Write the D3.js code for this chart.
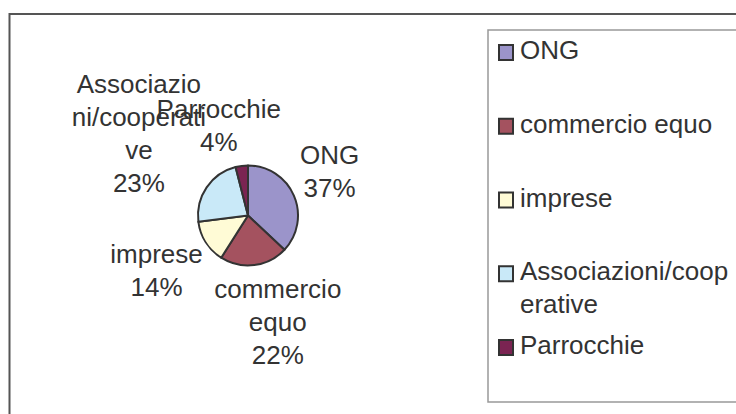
<!DOCTYPE html>
<html>
<head>
<meta charset="utf-8">
<script src="https://cdn.jsdelivr.net/npm/d3@7"></script>
<style>
  body { margin: 0; background: #fff; }
  text { font-family: "Liberation Sans", Arial, sans-serif; fill: #333; }
</style>
</head>
<body>
<div id="chart"></div>
<script>
// data
const categories = ["ONG", "commercio equo", "imprese", "Associazioni/cooperative", "Parrocchie"];
const values = [37, 22, 14, 23, 4];
const colors = ["#9b94ca", "#a4525f", "#fffbd6", "#c9e9f8", "#7b2452"];
// wrapped text as it appears next to the slices and in the legend
const sliceLabelLines = [["ONG"], ["commercio", "equo"], ["imprese"], ["Associazio", "ni/cooperati", "ve"], ["Parrocchie"]];
const legendLines = [["ONG"], ["commercio equo"], ["imprese"], ["Associazioni/coop", "erative"], ["Parrocchie"]];

const width = 736, height = 414;
const fontSize = 26, lineH = 33;

const svg = d3.select("#chart")
  .append("svg")
  .attr("width", width)
  .attr("height", height);

// outer chart border (runs off right and bottom)
svg.append("rect")
  .attr("x", 9.5).attr("y", 14)
  .attr("width", width + 20).attr("height", height + 20)
  .attr("fill", "none")
  .attr("stroke", "#555")
  .attr("stroke-width", 2);

// pie
const cx = 248, cy = 215.5, r = 50;
const total = d3.sum(values);
const pct = d3.format(".0%");

const pie = d3.pie().sort(null).value(d => d)(values);
const arc = d3.arc().innerRadius(0).outerRadius(r);

const g = svg.append("g").attr("transform", `translate(${cx},${cy})`);

g.selectAll("path")
  .data(pie)
  .join("path")
  .attr("d", arc)
  .attr("fill", (d, i) => colors[i])
  .attr("stroke", "#333")
  .attr("stroke-width", 2)
  .attr("stroke-linejoin", "round");

// slice labels, pushed out radially so the text block sits just off the rim
const gap = 8;
pie.forEach(function (d, i) {
  const lines = sliceLabelLines[i].concat([pct(values[i] / total)]);
  const t = g.append("text")
    .attr("font-size", fontSize)
    .attr("text-anchor", "middle");
  lines.forEach(function (s) {
    t.append("tspan").attr("x", 0).text(s);
  });
  let w = 0;
  t.selectAll("tspan").each(function () {
    w = Math.max(w, this.getComputedTextLength());
  });
  const a = (d.startAngle + d.endAngle) / 2;
  const ux = Math.sin(a), uy = -Math.cos(a);
  const halfW = w / 2, halfH = lines.length * lineH / 2;
  const x = ux * (r + gap) + Math.sign(ux) * Math.sqrt(Math.abs(ux)) * halfW;
  const y = uy * (r + gap) + Math.sign(uy) * Math.sqrt(Math.abs(uy)) * halfH;
  const y0 = y - (lines.length - 1) * lineH / 2 + 0.35 * fontSize;
  t.selectAll("tspan")
    .attr("x", x)
    .attr("y", (s, k) => y0 + k * lineH);
});

// legend
const legend = svg.append("g");
legend.append("rect")
  .attr("x", 488).attr("y", 30)
  .attr("width", width).attr("height", 372)
  .attr("fill", "#fff")
  .attr("stroke", "#999")
  .attr("stroke-width", 1.5);

const legendY = d3.scalePoint()
  .domain(categories)
  .range([59, 354]);

const item = legend.selectAll(".item")
  .data(categories)
  .join("g")
  .attr("class", "item")
  .attr("transform", d => `translate(0,${legendY(d)})`);

item.append("rect")
  .attr("x", 499).attr("y", -14)
  .attr("width", 14).attr("height", 15)
  .attr("fill", (d, i) => colors[i])
  .attr("stroke", "#333")
  .attr("stroke-width", 2);

item.append("text")
  .attr("font-size", fontSize)
  .each(function (d, i) {
    d3.select(this).selectAll("tspan")
      .data(legendLines[i])
      .join("tspan")
      .attr("x", 520)
      .attr("y", (s, k) => k * lineH)
      .text(s => s);
  });
</script>
</body>
</html>
